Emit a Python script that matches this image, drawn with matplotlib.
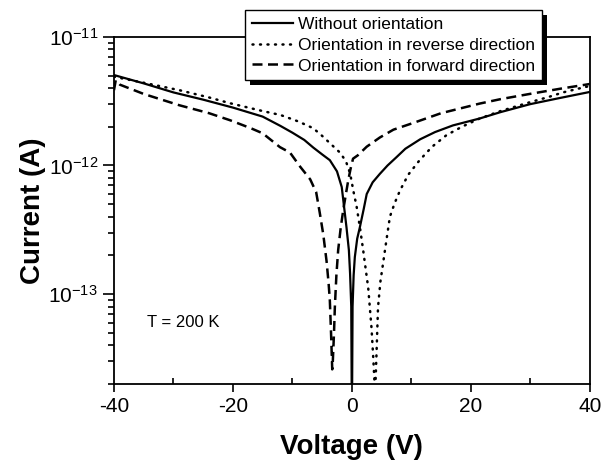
import numpy as np
import matplotlib
matplotlib.use("Agg")
import matplotlib.pyplot as plt
from matplotlib.lines import Line2D
from matplotlib.patches import Rectangle
from matplotlib.ticker import LogLocator, NullFormatter, MultipleLocator
import matplotlib.transforms as mtransforms

# ----------------------------
# Data (V in volts, I in amperes)
# ----------------------------
v_without = [-40, -35, -30, -25, -20, -15, -12, -10, -8, -6.5, -5, -3.7, -2.5, -1.7,
             -0.9, -0.5, -0.3, -0.1, -0.03, 0, 0.05, 0.12, 0.3, 0.5, 0.9, 1.34, 2.0,
             2.5, 3.5, 4.7, 6, 7.5, 9, 11.5, 14, 17, 21.5, 25, 30, 35, 40]
i_without = [5.05e-12, 4.35e-12, 3.7e-12, 3.25e-12, 2.82e-12, 2.4e-12, 2.03e-12, 1.8e-12,
             1.58e-12, 1.38e-12, 1.22e-12, 1.1e-12, 9e-13, 6.8e-13,
             3.3e-13, 2.2e-13, 1.45e-13, 8e-14, 2e-14, 1e-15, 2e-14, 8e-14, 1.4e-13,
             1.94e-13, 2.7e-13, 3.3e-13, 4.6e-13,
             6e-13, 7.4e-13, 8.6e-13, 1.0e-12, 1.16e-12, 1.35e-12, 1.6e-12, 1.82e-12,
             2.05e-12, 2.32e-12, 2.6e-12, 3.0e-12, 3.35e-12, 3.73e-12]

v_reverse = [-40, -35, -29, -24, -20.5, -15, -12, -9, -6.5, -5, -2, -1, -0.3, 0.3, 0.8,
             1.4, 1.9, 2.3, 2.75, 3.3, 3.6, 3.87, 4.0, 4.15, 4.4, 4.8, 5.3, 5.8, 6.4,
             7.2, 8.1, 9.5, 11.4, 13.5, 15.9, 18.5, 21.5, 25, 29.9, 33, 35.5, 38, 40]
i_reverse = [4.9e-12, 4.4e-12, 3.85e-12, 3.38e-12, 3.05e-12, 2.65e-12, 2.47e-12, 2.2e-12,
             1.95e-12, 1.7e-12, 1.26e-12, 1.08e-12, 8.7e-13, 6.2e-13, 4.8e-13,
             3.2e-13, 2.2e-13, 1.6e-13, 1.12e-13, 5.5e-14, 3.2e-14, 1.8e-14, 2.2e-14,
             3.5e-14, 7.9e-14, 1.25e-13, 1.8e-13, 2.6e-13, 4e-13,
             5.1e-13, 6.4e-13, 8.5e-13, 1.1e-12, 1.4e-12, 1.72e-12, 2.0e-12, 2.32e-12,
             2.65e-12, 3.1e-12, 3.4e-12, 3.7e-12, 3.95e-12, 4.15e-12]

v_forward = [-40, -39.7, -39, -35, -29, -24, -20.5, -17, -15, -12.1, -10.4, -8.7, -7,
             -6, -5.4, -4.8, -4.25, -3.9, -3.7, -3.5, -3.3, -3.2, -3.0, -2.86, -2.6,
             -2.3, -1.9, -1.45, -1.0, -0.6, -0.2, 0.2, 1, 2.5, 4.7, 7, 10.3, 15,
             21.5, 25, 29.9, 35, 40]
i_forward = [3.85e-12, 4.6e-12, 4.25e-12, 3.6e-12, 2.94e-12, 2.55e-12, 2.25e-12, 1.95e-12,
             1.78e-12, 1.39e-12, 1.26e-12, 9.8e-13, 7.8e-13,
             6.2e-13, 4.3e-13, 2.9e-13, 1.8e-13, 1.2e-13, 8.9e-14, 5e-14, 2.6e-14,
             3.0e-14, 5e-14, 7.9e-14, 1.4e-13,
             2.2e-13, 3.2e-13, 4.5e-13, 6e-13, 7.7e-13, 9.5e-13, 1.13e-12, 1.2e-12,
             1.4e-12, 1.65e-12, 1.9e-12, 2.14e-12, 2.55e-12,
             3.03e-12, 3.28e-12, 3.6e-12, 3.95e-12, 4.3e-12]

labels = ["Without orientation",
          "Orientation in reverse direction",
          "Orientation in forward direction"]

# ----------------------------
# Style
# ----------------------------
plt.rcParams["font.family"] = ["Liberation Sans", "DejaVu Sans"]
plt.rcParams["mathtext.fontset"] = "custom"
plt.rcParams["mathtext.rm"] = "Liberation Sans"
plt.rcParams["mathtext.it"] = "Liberation Sans:italic"
plt.rcParams["mathtext.bf"] = "Liberation Sans:bold"
plt.rcParams["axes.unicode_minus"] = False

fig = plt.figure(figsize=(6.03, 4.61), dpi=100)
ax = fig.add_axes([0.189, 0.167, 0.789, 0.753])
ax.patch.set_visible(False)

ax.plot(v_without, i_without, color="black", lw=1.6, ls="-")
ax.plot(v_reverse, i_reverse, color="black", lw=1.8, ls=(0, (0.4, 2.6)),
        dash_capstyle="round")
ax.plot(v_forward, i_forward, color="black", lw=1.8, ls=(0, (4, 2.2)))

ax.set_yscale("log")
ax.set_xlim(-40, 40)
ax.set_ylim(2.0e-14, 1e-11)

ax.xaxis.set_major_locator(MultipleLocator(20))
ax.xaxis.set_minor_locator(MultipleLocator(10))
ax.yaxis.set_major_locator(LogLocator(base=10))
ax.yaxis.set_minor_locator(LogLocator(base=10, subs=np.arange(2, 10)))
ax.yaxis.set_minor_formatter(NullFormatter())

ax.tick_params(axis="both", which="major", labelsize=15, width=1.2, color="black")
ax.tick_params(axis="x", which="major", direction="out", length=6)
ax.tick_params(axis="x", which="minor", direction="in", length=4, width=1.2)
ax.tick_params(axis="y", which="major", direction="out", length=8)
ax.tick_params(axis="y", which="minor", direction="out", length=4, width=1.2)
for sp in ax.spines.values():
    sp.set_linewidth(1.3)

ax.set_xlabel("Voltage (V)", fontsize=20, fontweight="bold", labelpad=13)
ax.set_ylabel("Current (A)", fontsize=20, fontweight="bold", labelpad=2)

ax.text(-34.5, 6.0e-14, "T = 200 K", fontsize=12, va="center", ha="left")

handles = [Line2D([], [], color="black", lw=1.6, ls="-"),
           Line2D([], [], color="black", lw=1.8, ls=(0, (0.4, 2.6)), dash_capstyle="round"),
           Line2D([], [], color="black", lw=1.8, ls=(0, (4, 2.2)))]
leg = fig.legend(handles, labels, loc="upper left", bbox_to_anchor=(0.406, 0.979),
                 fontsize=12.5, frameon=True, fancybox=False, edgecolor="black",
                 framealpha=1, borderpad=0.4, labelspacing=0.33,
                 handlelength=2.4, handletextpad=0.25, borderaxespad=0)
leg.get_frame().set_linewidth(1.0)
leg.set_zorder(10)

# drop shadow under the legend box
fig.canvas.draw()
bb = leg.get_window_extent(fig.canvas.get_renderer())
shadow = Rectangle((bb.x0 + 5, bb.y0 - 5), bb.width, bb.height,
                   transform=mtransforms.IdentityTransform(),
                   facecolor="black", edgecolor="none", zorder=9)
fig.add_artist(shadow)

fig.savefig("out.png", dpi=100)
